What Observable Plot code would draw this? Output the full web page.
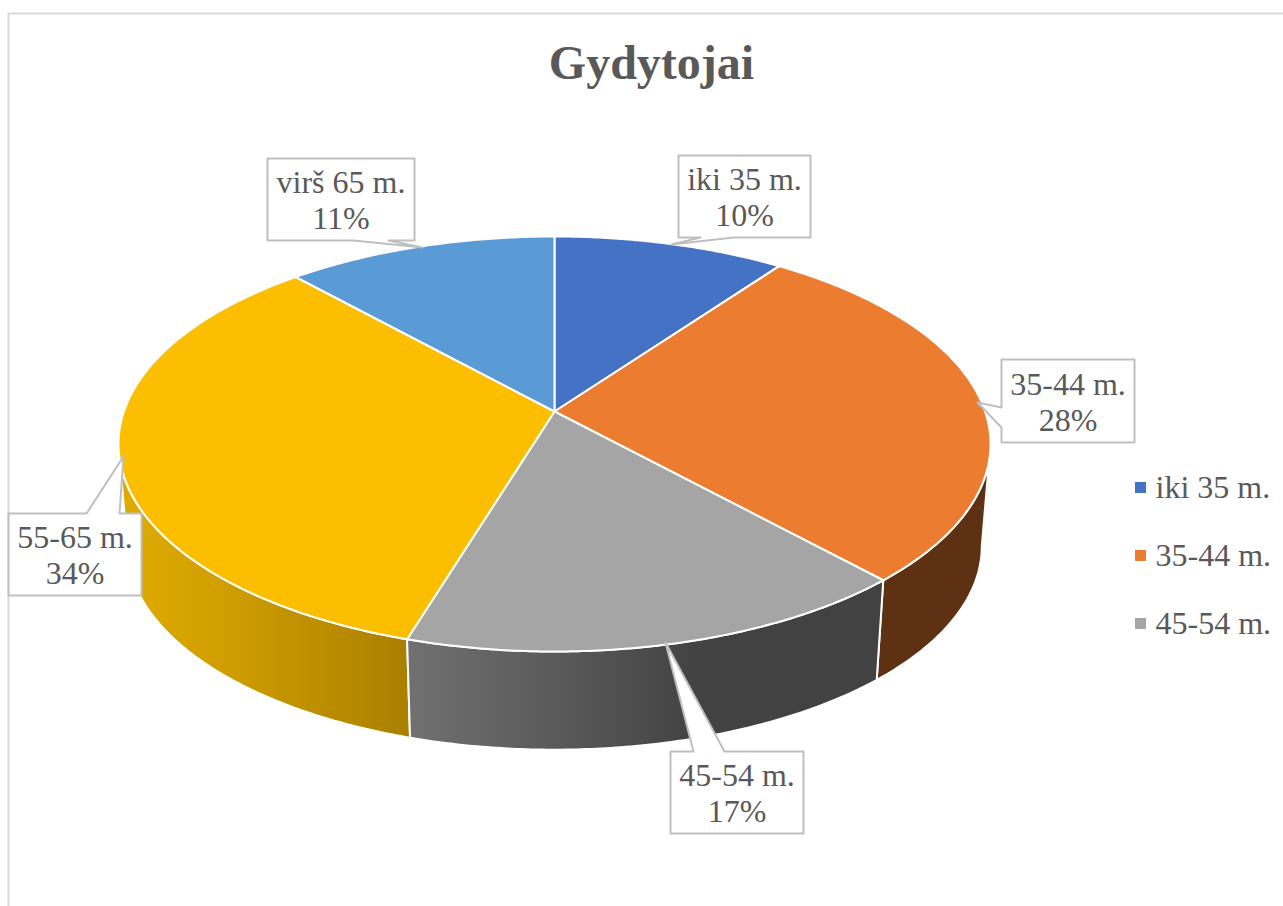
<!DOCTYPE html>
<html>
<head>
<meta charset="utf-8">
<script src="https://cdn.jsdelivr.net/npm/d3@7"></script>
<script src="https://cdn.jsdelivr.net/npm/@observablehq/plot@0.6"></script>
<style>
html,body{margin:0;padding:0;background:#fff;overflow:hidden}
svg{display:block}
</style>
</head>
<body>
<div id="chart"></div>
<script>
// ---- data ----
const chartTitle = "Gydytojai";
const categories = ["iki 35 m.", "35-44 m.", "45-54 m.", "55-65 m.", "virš 65 m."];
const sliceValues = [10, 28.2, 16.5, 33.6, 11.7];
const percentLabels = [10, 28, 17, 34, 11];
const legendCategories = categories.slice(0, 3);

// ---- styles ----
const topColors = ["#4472C4", "#EC7C30", "#A5A5A5", "#FBBE00", "#5B9BD5"];
const wallFills = [null, "#5F3113", "url(#wallGrey)", "url(#wallGold)", null];
const textColor = "#595959";
const calloutColor = "#BFBFBF";
const serif = "'Liberation Serif','Times New Roman',serif";

// ---- page layout and pie projection (perspective of a tilted disc) ----
const W = 1283, H = 906;
const view = {cx: 554, cy: 411, rx: 430.6, ry: 202.4, persp: 0.1566};
const base = {cy: 514, scale: 0.98};
const calloutBoxes = [
  {x1: 678, x2: 810, y1: 155, y2: 237, outline: [[700,237],[671,244],[733,237]], side: "bottom"},
  {x1: 1001, x2: 1134, y1: 359, y2: 442, outline: [[1001,407],[977,402],[1001,427]], side: "left"},
  {x1: 670, x2: 803, y1: 751, y2: 833, outline: [[693,751],[665,642],[724,751]], side: "top"},
  {x1: 8, x2: 141, y1: 513, y2: 595, outline: [[86,513],[123,456],[119,513]], side: "top"},
  {x1: 267, x2: 414, y1: 158, y2: 240, outline: [[353,240],[422,247],[388,240]], side: "bottom"}
];
const legendX = {swatch: 1140, text: 1155};
const legendY = [487, 555, 623];

function project(theta, floor) {
  const u = Math.sin(theta), v = Math.cos(theta), d = 1 + view.persp * v;
  const px = view.rx * u / d, py = view.ry * v / d;
  return floor
    ? {x: view.cx + base.scale * px, y: base.cy - base.scale * py}
    : {x: view.cx + px, y: view.cy - py};
}
function arc(a0, a1, floor) {
  const n = Math.max(2, Math.ceil((a1 - a0) / 0.01));
  return d3.range(n + 1).map(i => project(a0 + (a1 - a0) * i / n, floor));
}
const arcs = d3.pie().sort(null).startAngle(0).endAngle(2 * Math.PI)(sliceValues);
const apex = {x: view.cx, y: view.cy};
const topPolys = arcs.map(a => [apex, ...arc(a.startAngle, a.endAngle, false), apex]);
// the wall is visible between the two silhouette angles of the disc
const silhouette = Math.acos(-view.persp);
const wallPolys = arcs.map(a => {
  const a0 = Math.max(a.startAngle, silhouette), a1 = Math.min(a.endAngle, 2 * Math.PI - silhouette);
  const t = arc(a0, a1, false), b = arc(a0, a1, true).reverse();
  return [...t, ...b, t[0]];
});
function boxOutline(b) {
  const o = b.outline.map(([x, y]) => ({x, y}));
  const tl = {x: b.x1, y: b.y1}, tr = {x: b.x2, y: b.y1}, br = {x: b.x2, y: b.y2}, bl = {x: b.x1, y: b.y2};
  if (b.side === "top") return [tl, ...o, tr, br, bl, tl];
  if (b.side === "bottom") return [tl, tr, br, ...[...o].reverse(), bl, tl];
  return [tl, tr, br, bl, ...[...o].reverse(), tl];
}
const calloutTexts = categories.map((c, i) => ({
  text: c + "\n" + percentLabels[i] + "%",
  x: (calloutBoxes[i].x1 + calloutBoxes[i].x2) / 2,
  y: (calloutBoxes[i].y1 + calloutBoxes[i].y2) / 2
}));
const legendRows = legendCategories.map((c, i) => ({c, color: topColors[i], y: legendY[i]}));

const defs = () => {
  const s = d3.create("svg:defs");
  const grad = (id, x1, x2, stops) => {
    const g = s.append("linearGradient").attr("id", id).attr("gradientUnits", "userSpaceOnUse")
      .attr("x1", x1).attr("x2", x2).attr("y1", 0).attr("y2", 0);
    stops.forEach(([o, c]) => g.append("stop").attr("offset", o).attr("stop-color", c));
  };
  grad("wallGold", 125, 410, [[0, "#DFAB00"], [0.3, "#D2A000"], [1, "#A97F00"]]);
  grad("wallGrey", 410, 700, [[0, "#707070"], [0.5, "#5A5A5A"], [1, "#424242"]]);
  return s.node();
};

const marks = [
  defs,
  // chart frame
  Plot.ruleY([13], {x1: 8, x2: W, stroke: "#D9D9D9", strokeWidth: 2}),
  Plot.ruleX([8], {y1: 13, y2: H, stroke: "#D9D9D9", strokeWidth: 2}),
  // slab walls, then top faces
  ...[1, 3, 2].map(i => Plot.line(wallPolys[i], {x: "x", y: "y", fill: wallFills[i], stroke: "white", strokeWidth: 2, curve: "linear"})),
  ...topPolys.map((p, i) => Plot.line(p, {x: "x", y: "y", fill: topColors[i], stroke: "white", strokeWidth: 2, curve: "linear"})),
  // callouts
  ...calloutBoxes.map(b => Plot.line(boxOutline(b), {x: "x", y: "y", fill: "white", stroke: calloutColor, strokeWidth: 2, curve: "linear"})),
  Plot.text(calloutTexts, {x: "x", y: "y", text: "text", fontSize: 32, lineHeight: 1.13, fontFamily: serif, fill: textColor, textAnchor: "middle"}),
  // title
  Plot.text([chartTitle], {x: 651, y: 63, text: d => d, fontSize: 48, fontWeight: "bold", fontFamily: serif, fill: textColor, textAnchor: "middle"}),
  // legend
  Plot.dot(legendRows, {x: legendX.swatch, y: "y", symbol: "square", r: 6.2, fill: "color", stroke: "none"}),
  Plot.text(legendRows, {x: legendX.text, y: "y", text: "c", fontSize: 32, fontFamily: serif, fill: textColor, textAnchor: "start"})
];

const chart = Plot.plot({
  width: W, height: H, margin: 0,
  x: {domain: [0, W], range: [0, W], axis: null},
  y: {domain: [0, H], range: [0, H], axis: null},
  color: {type: "identity"},
  style: {background: "white", maxWidth: "none"},
  marks
});
document.getElementById("chart").appendChild(chart);
</script>
</body>
</html>
